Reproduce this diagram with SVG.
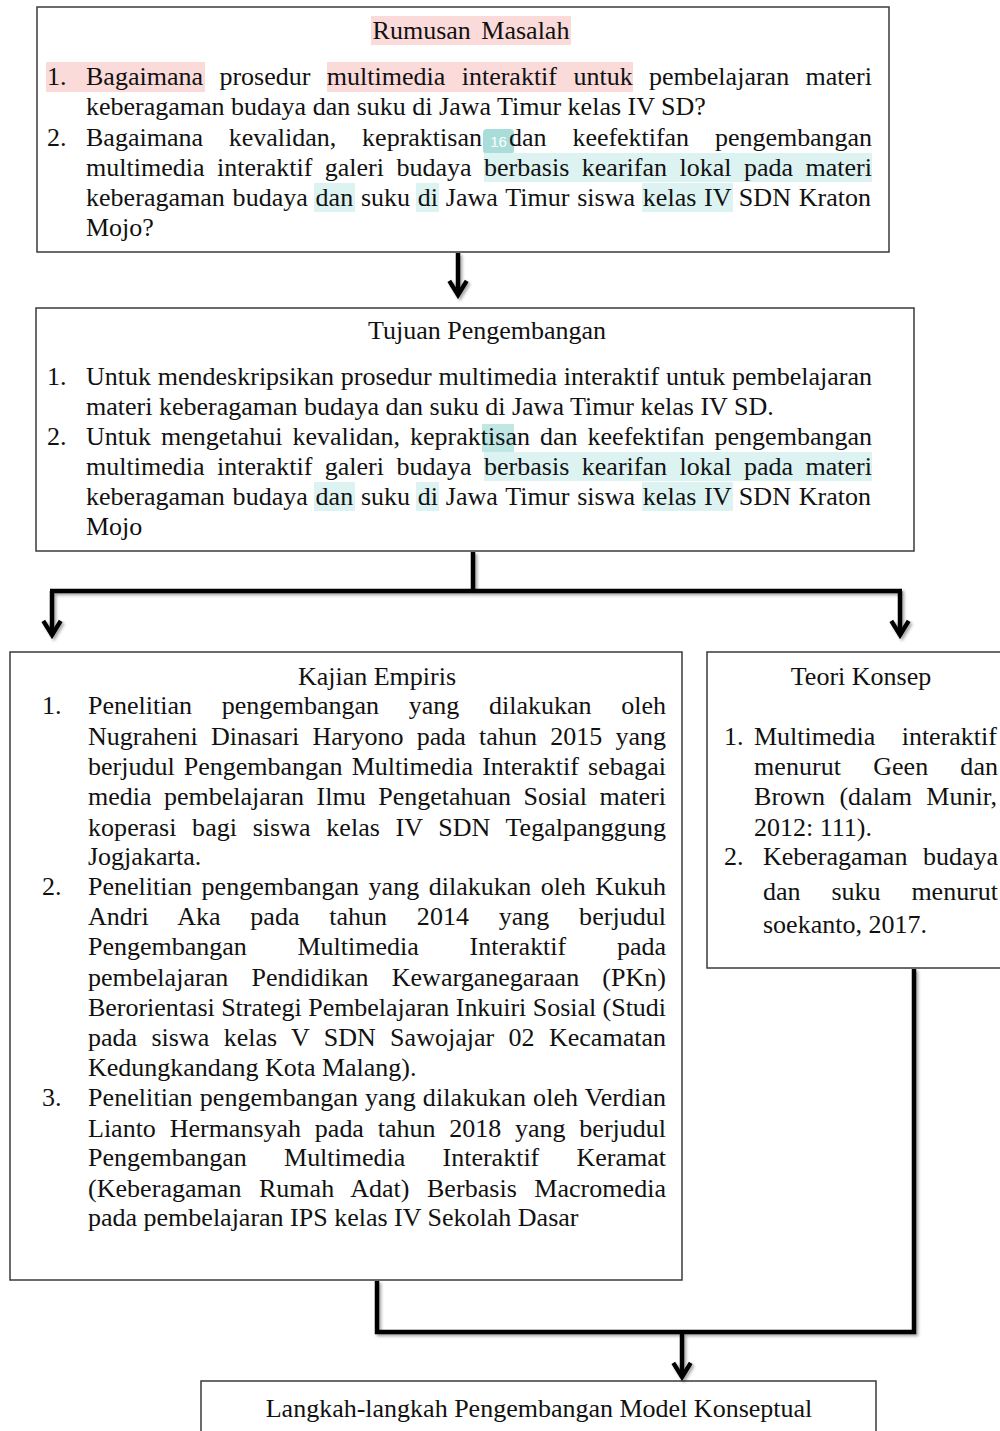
<svg xmlns="http://www.w3.org/2000/svg" width="1000" height="1431" viewBox="0 0 1000 1431">
<style>
.t{font-family:"Liberation Serif","Times New Roman",serif;font-size:26px;fill:#111}
.c{text-anchor:middle}
.box{fill:#fff;stroke:#3a3a3a;stroke-width:1.5}
.conn{fill:none;stroke:#000;stroke-width:4.5;stroke-linejoin:miter}
.hp{fill:#fbdada}
.ht{fill:#ddf3f1}
.badge{fill:#a9ddd9}
.bt{font-family:"Liberation Sans",Arial,sans-serif;font-size:15px;fill:#fff;text-anchor:middle}
</style>
<defs>
<marker id="arr" markerUnits="userSpaceOnUse" markerWidth="22" markerHeight="24" viewBox="-3 -11 19 22" refX="13" refY="0" orient="auto">
<path d="M0,-8 L13,0 L0,8" fill="none" stroke="#000" stroke-width="4"/>
</marker>
<filter id="sh" x="-5%" y="-5%" width="110%" height="110%">
<feDropShadow dx="2" dy="2" stdDeviation="1.5" flood-color="#000" flood-opacity="0.35"/>
</filter>
</defs>
<rect width="1000" height="1431" fill="#fff"/>

<g id="rumusan">
<rect class="box" x="37" y="7" width="852" height="245"/>
<rect class="hp" x="371" y="16" width="200" height="29"/>
<text class="t c" x="471" y="39" style="word-spacing:4px">Rumusan Masalah</text>
<rect class="hp" x="46" y="62" width="159" height="30"/>
<rect class="hp" x="327" y="62" width="306" height="30"/>
<text class="t" x="47" y="85">1.</text>
<text class="t" x="86" y="85" style="word-spacing:9.9px" textLength="786" lengthAdjust="spacing">Bagaimana prosedur multimedia interaktif untuk pembelajaran materi</text>
<text class="t" x="86" y="115">keberagaman budaya dan suku di Jawa Timur kelas IV SD?</text>
<rect class="badge" x="483" y="129" width="31" height="25" rx="4"/>
<text class="bt" x="498.5" y="147">16</text>
<text class="t" x="47" y="146">2.</text>
<text class="t" x="86" y="146" style="word-spacing:19.25px" textLength="396" lengthAdjust="spacing">Bagaimana kevalidan, kepraktisan</text>
<text class="t" x="509" y="146" style="word-spacing:19.6px" textLength="363" lengthAdjust="spacing">dan keefektifan pengembangan</text>
<rect class="ht" x="484" y="153" width="388" height="29"/>
<text class="t" x="86" y="176" style="word-spacing:6px" textLength="786" lengthAdjust="spacing">multimedia interaktif galeri budaya berbasis kearifan lokal pada materi</text>
<rect class="ht" x="314" y="183" width="41" height="29"/>
<rect class="ht" x="416" y="183" width="23" height="29"/>
<rect class="ht" x="642" y="183" width="91" height="29"/>
<text class="t" x="86" y="206" style="word-spacing:1.2px" textLength="785" lengthAdjust="spacing">keberagaman budaya dan suku di Jawa Timur siswa kelas IV SDN Kraton</text>
<text class="t" x="86" y="236">Mojo?</text>
</g>

<g id="tujuan">
<rect class="box" x="36" y="308" width="878" height="243"/>
<text class="t c" x="487" y="339">Tujuan Pengembangan</text>
<text class="t" x="47" y="385">1.</text>
<text class="t" x="86" y="385" style="word-spacing:0.3px" textLength="786" lengthAdjust="spacing">Untuk mendeskripsikan prosedur multimedia interaktif untuk pembelajaran</text>
<text class="t" x="86" y="415">materi keberagaman budaya dan suku di Jawa Timur kelas IV SD.</text>
<rect fill="#bfe7e3" x="482" y="424" width="32" height="28"/>
<text class="t" x="47" y="445">2.</text>
<text class="t" x="86" y="445" style="word-spacing:3.5px" textLength="786" lengthAdjust="spacing">Untuk mengetahui kevalidan, kepraktisan dan keefektifan pengembangan</text>
<rect class="ht" x="484" y="452" width="388" height="29"/>
<text class="t" x="86" y="475" style="word-spacing:6px" textLength="786" lengthAdjust="spacing">multimedia interaktif galeri budaya berbasis kearifan lokal pada materi</text>
<rect class="ht" x="314" y="482" width="41" height="29"/>
<rect class="ht" x="416" y="482" width="23" height="29"/>
<rect class="ht" x="642" y="482" width="91" height="29"/>
<text class="t" x="86" y="505" style="word-spacing:1.2px" textLength="785" lengthAdjust="spacing">keberagaman budaya dan suku di Jawa Timur siswa kelas IV SDN Kraton</text>
<text class="t" x="86" y="535">Mojo</text>
</g>

<g id="kajian">
<rect class="box" x="10" y="652" width="672" height="628"/>
<text class="t c" x="377" y="685">Kajian Empiris</text>
<text class="t" x="42" y="714">1.</text>
<text class="t" x="88" y="714" style="word-spacing:23.2px" textLength="578" lengthAdjust="spacing">Penelitian pengembangan yang dilakukan oleh</text>
<text class="t" x="88" y="745" style="word-spacing:6.8px" textLength="578" lengthAdjust="spacing">Nugraheni Dinasari Haryono pada tahun 2015 yang</text>
<text class="t" x="88" y="775" style="word-spacing:2.6px" textLength="578" lengthAdjust="spacing">berjudul Pengembangan Multimedia Interaktif sebagai</text>
<text class="t" x="88" y="805" style="word-spacing:6px" textLength="578" lengthAdjust="spacing">media pembelajaran Ilmu Pengetahuan Sosial materi</text>
<text class="t" x="88" y="836" style="word-spacing:9px" textLength="578" lengthAdjust="spacing">koperasi bagi siswa kelas IV SDN Tegalpanggung</text>
<text class="t" x="88" y="865">Jogjakarta.</text>
<text class="t" x="42" y="895">2.</text>
<text class="t" x="88" y="895" style="word-spacing:3.1px" textLength="578" lengthAdjust="spacing">Penelitian pengembangan yang dilakukan oleh Kukuh</text>
<text class="t" x="88" y="925" style="word-spacing:23.2px" textLength="578" lengthAdjust="spacing">Andri Aka pada tahun 2014 yang berjudul</text>
<text class="t" x="88" y="955" style="word-spacing:44.2px" textLength="578" lengthAdjust="spacing">Pengembangan Multimedia Interaktif pada</text>
<text class="t" x="88" y="986" style="word-spacing:16.7px" textLength="578" lengthAdjust="spacing">pembelajaran Pendidikan Kewarganegaraan (PKn)</text>
<text class="t" x="88" y="1016" textLength="578" lengthAdjust="spacing">Berorientasi Strategi Pembelajaran Inkuiri Sosial (Studi</text>
<text class="t" x="88" y="1046" style="word-spacing:7.8px" textLength="578" lengthAdjust="spacing">pada siswa kelas V SDN Sawojajar 02 Kecamatan</text>
<text class="t" x="88" y="1076">Kedungkandang Kota Malang).</text>
<text class="t" x="42" y="1106">3.</text>
<text class="t" x="88" y="1106" style="word-spacing:0.5px" textLength="578" lengthAdjust="spacing">Penelitian pengembangan yang dilakukan oleh Verdian</text>
<text class="t" x="88" y="1137" style="word-spacing:7.3px" textLength="578" lengthAdjust="spacing">Lianto Hermansyah pada tahun 2018 yang berjudul</text>
<text class="t" x="88" y="1166" style="word-spacing:30.7px" textLength="578" lengthAdjust="spacing">Pengembangan Multimedia Interaktif Keramat</text>
<text class="t" x="88" y="1197" style="word-spacing:10.9px" textLength="578" lengthAdjust="spacing">(Keberagaman Rumah Adat) Berbasis Macromedia</text>
<text class="t" x="88" y="1226">pada pembelajaran IPS kelas IV Sekolah Dasar</text>
</g>

<g id="teori">
<rect class="box" x="707" y="652" width="310" height="316"/>
<text class="t c" x="861" y="685">Teori Konsep</text>
<text class="t" x="724" y="745">1.</text>
<text class="t" x="754" y="745" style="word-spacing:19.8px" textLength="243" lengthAdjust="spacing">Multimedia interaktif</text>
<text class="t" x="754" y="775" style="word-spacing:25.5px" textLength="244" lengthAdjust="spacing">menurut Geen dan</text>
<text class="t" x="754" y="805" style="word-spacing:7.8px" textLength="243" lengthAdjust="spacing">Brown (dalam Munir,</text>
<text class="t" x="754" y="836">2012: 111).</text>
<text class="t" x="724" y="865">2.</text>
<text class="t" x="763" y="865" style="word-spacing:9px" textLength="235" lengthAdjust="spacing">Keberagaman budaya</text>
<text class="t" x="763" y="900" style="word-spacing:24.4px" textLength="235" lengthAdjust="spacing">dan suku menurut</text>
<text class="t" x="763" y="933">soekanto, 2017.</text>
</g>

<g id="langkah">
<rect class="box" x="201" y="1381" width="675" height="70"/>
<text class="t c" x="539" y="1417">Langkah-langkah Pengembangan Model Konseptual</text>
</g>

<g id="connectors" filter="url(#sh)">
<path class="conn" d="M458,253 V295" marker-end="url(#arr)"/>
<path class="conn" d="M473,552 V591"/>
<path class="conn" d="M50,591 H902"/>
<path class="conn" d="M52,591 V635" marker-end="url(#arr)"/>
<path class="conn" d="M900,591 V635" marker-end="url(#arr)"/>
<path class="conn" d="M377,1281 V1332 H914 V969"/>
<path class="conn" d="M682,1332 V1377" marker-end="url(#arr)"/>
</g>
</svg>
